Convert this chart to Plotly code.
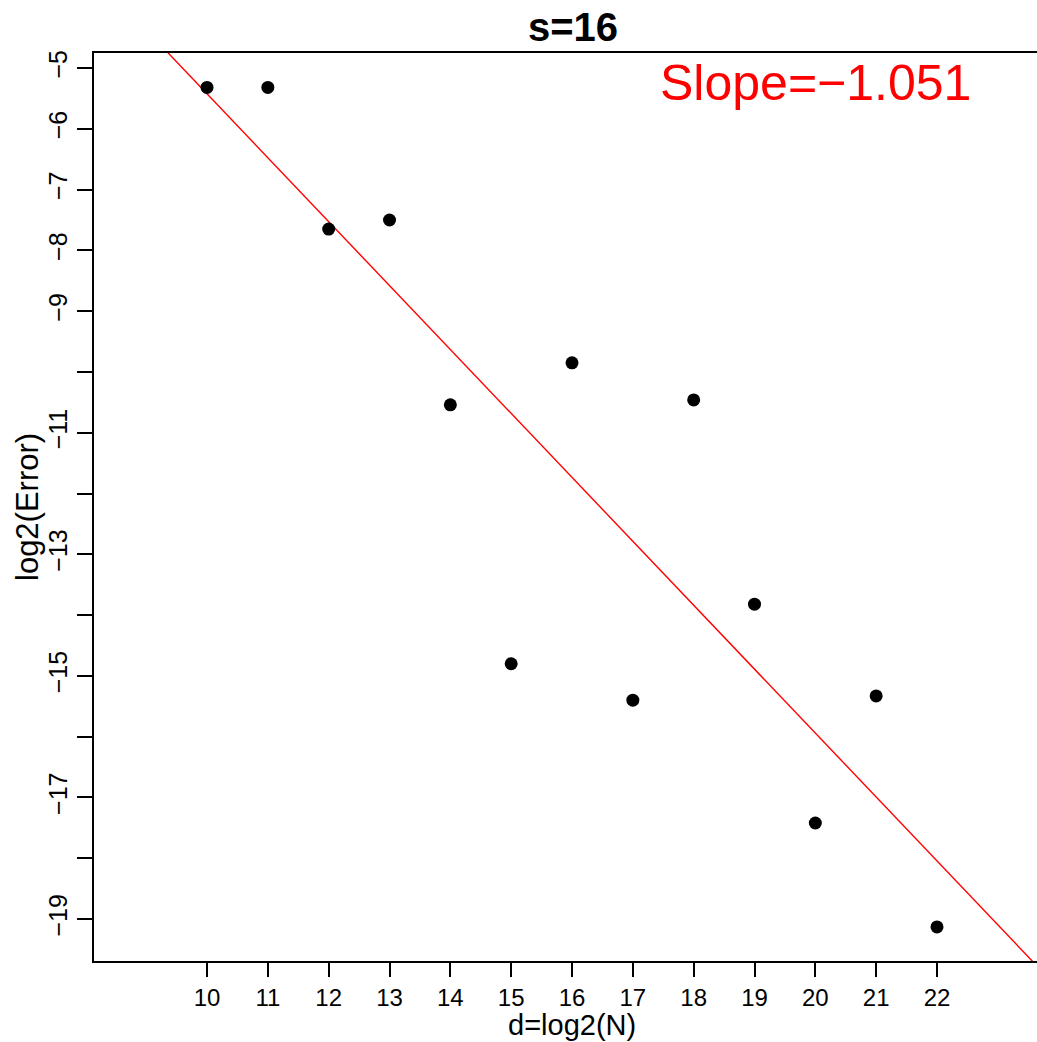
import numpy as np
import plotly.graph_objects as go

# d = log2(N) and log2(Error)
d_vals = [10, 11, 12, 13, 14, 15, 16, 17, 18, 19, 20, 21, 22]
log_err = [-5.32, -5.32, -7.65, -7.50, -10.54, -14.80, -9.85, -15.40,
           -10.46, -13.82, -17.42, -15.33, -19.13]

x_ticks = list(range(10, 23))
y_ticks = list(range(-5, -20, -1))
# R drops the labels that would overlap
y_labels = ["\u22125", "\u22126", "\u22127", "\u22128", "\u22129", "", "\u221211", "",
            "\u221213", "", "\u221215", "", "\u221217", "", "\u221219"]

title_text = "s=16"
slope_text = "Slope=\u22121.051"

x_range = [8.142, 23.644]
y_range = [-19.69, -4.753]

slope, icept = np.polyfit(d_vals, log_err, 1)
fit_x = np.array([x_range[0] - 1, x_range[1] + 1])
fit_y = icept + slope * fit_x

font = "Liberation Sans, Arial, sans-serif"

fig = go.Figure()
fig.add_trace(go.Scatter(x=fit_x, y=fit_y, mode="lines",
                         line=dict(color="#ff0000", width=1.4),
                         showlegend=False, hoverinfo="skip"))
fig.add_trace(go.Scatter(x=d_vals, y=log_err, mode="markers",
                         marker=dict(color="black", size=13),
                         showlegend=False))

fig.update_layout(
    width=1037, height=1042,
    margin=dict(l=94, r=0, t=53, b=81),
    plot_bgcolor="white", paper_bgcolor="white",
    font=dict(family=font, color="black"),
    title=dict(text="<b>" + title_text + "</b>", font=dict(size=40, family=font),
               xref="container", x=573 / 1037, xanchor="center",
               yref="container", y=1 - 27 / 1042, yanchor="middle"),
    annotations=[
        dict(text=slope_text, x=20, y=-5.25, xref="x", yref="y",
             showarrow=False, font=dict(size=50, color="#ff0000", family=font),
             xanchor="center", yanchor="middle"),
        dict(text="d=log2(N)", x=(572 - 94) / 943, y=0, xref="paper", yref="paper",
             yshift=-64, showarrow=False, font=dict(size=29, family=font),
             xanchor="center", yanchor="middle"),
        dict(text="log2(Error)", x=0, y=0.5, xref="paper", yref="paper",
             xshift=-67, textangle=-90, showarrow=False,
             font=dict(size=31, family=font), xanchor="center", yanchor="middle"),
    ],
)

fig.update_xaxes(range=x_range, tickvals=x_ticks, ticktext=[str(v) for v in x_ticks],
                 ticks="outside", ticklen=14, tickwidth=1.5, tickcolor="black",
                 showline=True, linecolor="black", linewidth=1.6, mirror=True,
                 showgrid=False, zeroline=False, tickfont=dict(size=24))
fig.update_yaxes(range=y_range, tickvals=y_ticks, ticktext=y_labels,
                 ticks="outside", ticklen=15, tickwidth=1.5, tickcolor="black",
                 showline=True, linecolor="black", linewidth=1.6, mirror=False,
                 showgrid=False, zeroline=False, tickangle=-90, tickfont=dict(size=25))

# drop the page's default body margin so the figure sits at the window corner
fig.write_html("out.html", config={"displayModeBar": False},
               post_script="document.body.style.margin='0';")
